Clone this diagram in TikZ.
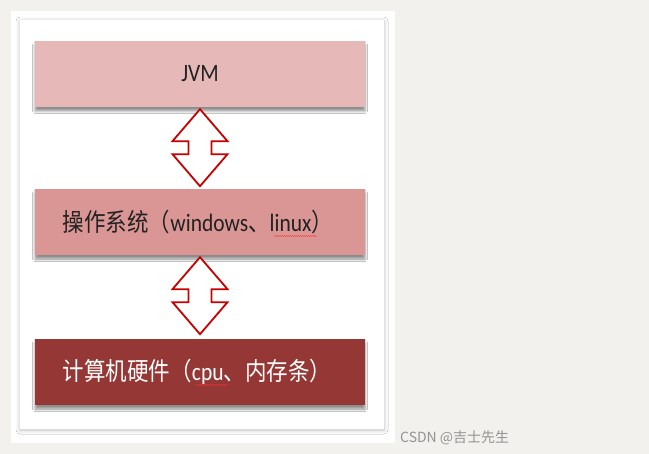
\documentclass[tikz,border=0pt]{standalone}
\usepackage{fontspec}
\setmainfont{Carlito}[FakeStretch=0.86]
\newfontfamily\cjk{Noto Sans CJK SC}[FakeStretch=0.86]
\newfontfamily\markfont{Noto Sans CJK SC}
\usetikzlibrary{calc,shadows.blur,decorations.pathmorphing}

\definecolor{pagegray}{HTML}{F2F1ED}
\definecolor{jvmpink}{HTML}{E6B8B7}
\definecolor{ospink}{HTML}{D99694}
\definecolor{hwred}{HTML}{953735}
\definecolor{linkred}{HTML}{C80000}
\definecolor{inkgray}{HTML}{222222}

\tikzset{
  layerbox/.style={minimum width=330pt, minimum height=66pt, inner ysep=0pt,
    font=\fontsize{25}{28}\selectfont, text=inkgray,
    blur shadow={shadow xshift=0pt, shadow yshift=-4pt,
      shadow blur radius=2.5pt, shadow opacity=45}},
  leftbox/.style={layerbox, text width=274pt, inner xsep=28pt, align=left},
  linkarrow/.style={draw=linkred, line width=1.8pt, fill=white, line join=miter},
  squiggle/.style={draw=red!80, line width=0.4pt,
    decorate, decoration={snake, amplitude=0.5pt, segment length=2pt}}
}

% double arrow between two stacked boxes
\newcommand{\vlink}[2]{%
  \draw[linkarrow] ($(#1.south)+(0,2)$) -- ++(27.5,32) -- ++(-16,0) -- ++(0,13)
    -- ++(16,0) -- ++(-27.5,32) -- ++(-27.5,-32) -- ++(16,0) -- ++(0,-13)
    -- ++(-16,0) -- cycle;}

\begin{document}
\begin{tikzpicture}[x=1pt, y=-1pt]
  \fill[pagegray] (0,0) rectangle (649,454);
  \useasboundingbox (0,0) rectangle (649,454);
  % paper and panel
  \fill[white!97!pagegray] (11,11) rectangle (395,443);
  \fill[white, blur shadow={shadow xshift=0pt, shadow yshift=-1pt,
    shadow blur radius=4pt, shadow opacity=25}] (20,20) rectangle (384,429);
  % layers
  \node[layerbox, fill=jvmpink] (jvm) at (200,74) {JVM};
  \node[leftbox, fill=ospink] (os) at (200,222)
    {{\cjk 操作系统（}windows{\cjk 、}linux{\cjk ）}};
  \node[leftbox, fill=hwred, text=white] (hw) at (200,372)
    {{\cjk 计算机硬件（}cpu{\cjk 、内存条）}};
  \vlink{jvm}{os}
  \vlink{os}{hw}
  % spell-check marks
  \draw[squiggle] (274,236) -- (317,236);
  \draw[squiggle] (196,385) -- (228,385);
  % watermark
  \node[anchor=base west, inner sep=0pt, text=gray!85,
    font=\markfont\fontsize{14}{16}\selectfont] (mark) at (400,443) {CSDN @吉士先生};
\end{tikzpicture}
\end{document}
